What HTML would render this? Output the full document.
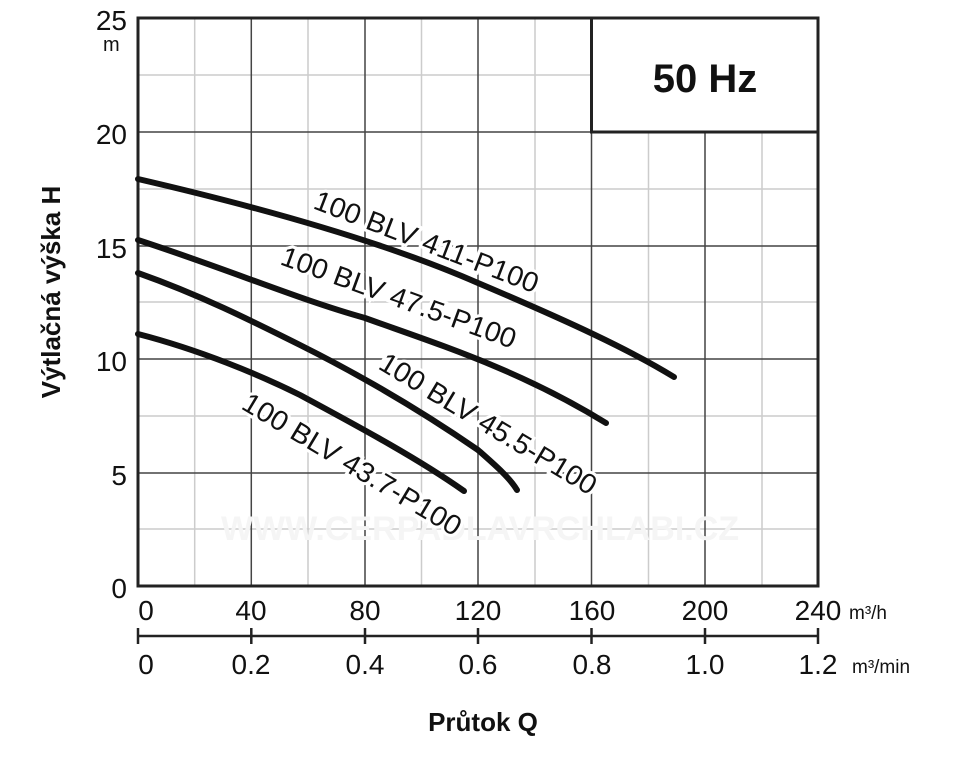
<!DOCTYPE html>
<html><head><meta charset="utf-8"><style>
body{margin:0;background:#fff;}
text{font-family:"Liberation Sans",sans-serif;}
</style></head><body>
<svg width="956" height="768" viewBox="0 0 956 768" xmlns="http://www.w3.org/2000/svg">
<g stroke="#ccc" stroke-width="1.5">
<line x1="194.7" y1="18" x2="194.7" y2="586"/><line x1="308" y1="18" x2="308" y2="586"/>
<line x1="421.5" y1="18" x2="421.5" y2="586"/><line x1="535" y1="18" x2="535" y2="586"/>
<line x1="648.5" y1="18" x2="648.5" y2="586"/><line x1="762" y1="18" x2="762" y2="586"/>
<line x1="138" y1="75" x2="818" y2="75"/><line x1="138" y1="189" x2="818" y2="189"/>
<line x1="138" y1="302" x2="818" y2="302"/><line x1="138" y1="416" x2="818" y2="416"/>
<line x1="138" y1="529" x2="818" y2="529"/>
</g>
<g stroke="#444" stroke-width="1.5">
<line x1="251.3" y1="18" x2="251.3" y2="586"/><line x1="365" y1="18" x2="365" y2="586"/>
<line x1="478" y1="18" x2="478" y2="586"/><line x1="591.5" y1="18" x2="591.5" y2="586"/>
<line x1="705" y1="18" x2="705" y2="586"/>
<line x1="138" y1="132" x2="818" y2="132"/><line x1="138" y1="246" x2="818" y2="246"/>
<line x1="138" y1="359" x2="818" y2="359"/><line x1="138" y1="473" x2="818" y2="473"/>
</g>
<text x="480" y="540" font-size="34" font-weight="bold" fill="#f5f5f5" text-anchor="middle">WWW.CERPADLAVRCHLABI.CZ</text>
<rect x="591.5" y="18" width="226.5" height="114" fill="#fff" stroke="#222" stroke-width="3"/>
<text x="705" y="92" font-size="40" font-weight="bold" text-anchor="middle" fill="#111">50 Hz</text>
<rect x="138" y="18" width="680" height="568" fill="none" stroke="#222" stroke-width="3"/>
<g fill="none" stroke="#111" stroke-width="6" stroke-linecap="round" stroke-linejoin="round">
<path d="M138,179 C250,205 380,240 478,283 C570,322 630,350 674,377"/>
<path d="M138,240 C230,270 300,300 365,318 C440,345 520,370 606,423"/>
<path d="M138,273 C200,295 250,320 300,345 C360,375 420,410 478,450 C495,465 510,478 517,490"/>
<path d="M138,334 C200,350 260,375 300,395 C365,430 420,460 464,491"/>
</g>
<g font-size="28" fill="#111" stroke="#fff" stroke-width="6" paint-order="stroke">
<text transform="translate(312,208) rotate(21)" textLength="238" lengthAdjust="spacingAndGlyphs">100 BLV 411-P100</text>
<text transform="translate(279,264) rotate(20)" textLength="248" lengthAdjust="spacingAndGlyphs">100 BLV 47.5-P100</text>
<text transform="translate(377,368) rotate(31)" textLength="248" lengthAdjust="spacingAndGlyphs">100 BLV 45.5-P100</text>
<text transform="translate(240,408) rotate(31)" textLength="250" lengthAdjust="spacingAndGlyphs">100 BLV 43.7-P100</text>
</g>
<g font-size="28" fill="#111" text-anchor="end">
<text x="127" y="30">25</text><text x="127" y="144">20</text><text x="127" y="258">15</text>
<text x="127" y="371">10</text><text x="127" y="485">5</text><text x="127" y="598">0</text>
</g>
<text x="103" y="51" font-size="20" fill="#111">m</text>
<g font-size="28" fill="#111" text-anchor="middle">
<text x="146" y="620">0</text><text x="251" y="620">40</text><text x="365" y="620">80</text>
<text x="478" y="620">120</text><text x="592" y="620">160</text><text x="705" y="620">200</text><text x="818" y="620">240</text>
<text x="146" y="674">0</text><text x="251" y="674">0.2</text><text x="365" y="674">0.4</text>
<text x="478" y="674">0.6</text><text x="592" y="674">0.8</text><text x="705" y="674">1.0</text><text x="818" y="674">1.2</text>
</g>
<text x="849" y="619" font-size="19" fill="#111">m³/h</text>
<text x="852" y="673" font-size="19" fill="#111">m³/min</text>
<g stroke="#222" stroke-width="2.5">
<line x1="138" y1="636" x2="818" y2="636"/>
<line x1="138" y1="628" x2="138" y2="644"/><line x1="251.3" y1="628" x2="251.3" y2="644"/>
<line x1="365" y1="628" x2="365" y2="644"/><line x1="478" y1="628" x2="478" y2="644"/>
<line x1="591.5" y1="628" x2="591.5" y2="644"/><line x1="705" y1="628" x2="705" y2="644"/>
<line x1="818" y1="628" x2="818" y2="644"/>
</g>
<text x="483" y="731" font-size="26" font-weight="bold" text-anchor="middle" fill="#111">Průtok Q</text>
<text transform="translate(60,292) rotate(-90)" font-size="26" font-weight="bold" text-anchor="middle" fill="#111">Výtlačná výška H</text>
</svg>
</body></html>
